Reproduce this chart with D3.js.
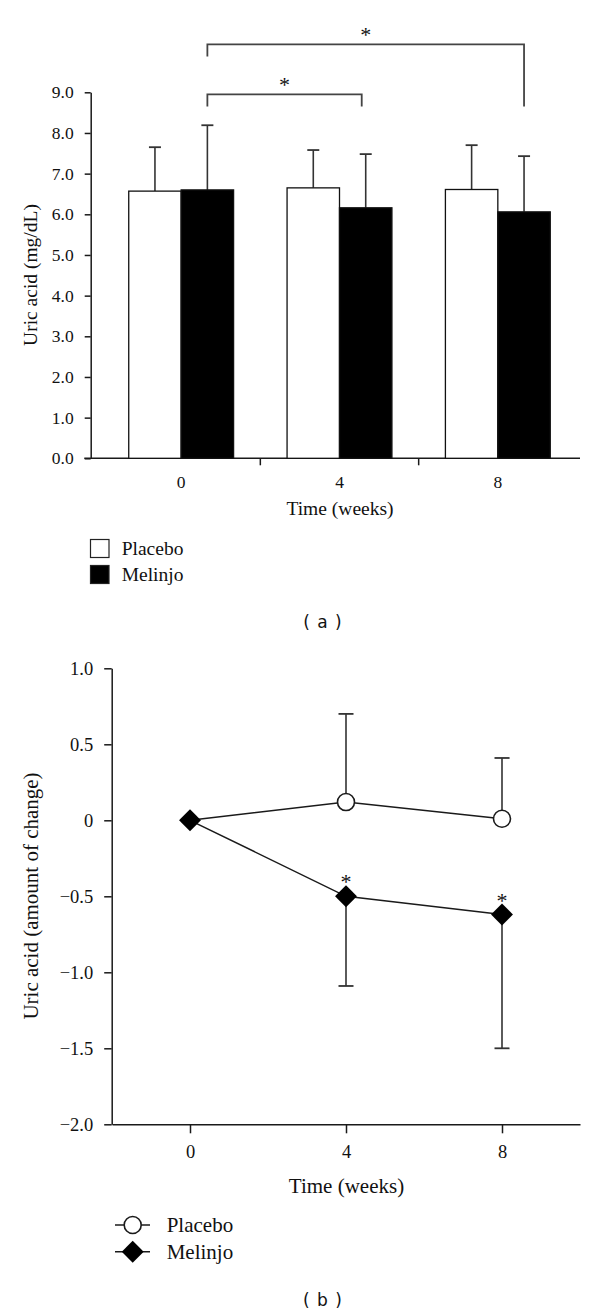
<!DOCTYPE html>
<html><head><meta charset="utf-8">
<script src="https://cdn.jsdelivr.net/npm/d3@7"></script>
<style>
html,body{margin:0;padding:0;background:#fff;}
svg{display:block;}
text{fill:#111;}
</style></head>
<body>
<svg id="chart" width="600" height="1316"></svg>
<script>
// ---------- Data: panel (a) ----------
const weeksA = ["0", "4", "8"];
const seriesNames = ["Placebo", "Melinjo"];
const placeboMean = [6.57, 6.65, 6.61];
const placeboSD   = [1.08, 0.93, 1.09];
const melinjoMean = [6.60, 6.16, 6.06];
const melinjoSD   = [1.59, 1.32, 1.37];
const yTicksA = [0, 1, 2, 3, 4, 5, 6, 7, 8, 9];

// ---------- Data: panel (b) ----------
const weeksB = [0, 4, 8];
const placeboChange = [0, 0.12, 0.01];
const placeboErr    = [0, 0.58, 0.40];
const melinjoChange = [0, -0.50, -0.62];
const melinjoErr    = [0, 0.59, 0.88];
const yTicksB = [1.0, 0.5, 0, -0.5, -1.0, -1.5, -2.0];
const yTickLabelsB = ["1.0", "0.5", "0", "\u22120.5", "\u22121.0", "\u22121.5", "\u22122.0"];
const sigWeeksB = [4, 8];

const serif = "Liberation Serif, Times New Roman, serif";
const svg = d3.select("#chart");
const ink = "#1a1a1a";

// ================= Panel (a) =================
const gA = svg.append("g");
const yA = d3.scaleLinear().domain([0, 9]).range([458.3, 92.3]);
const xA = d3.scaleBand().domain(weeksA).range([102, 577]).paddingInner(0).paddingOuter(0);
const xInner = d3.scaleBand().domain(seriesNames).range([0, xA.bandwidth()]).paddingInner(0).paddingOuter(0.51);

// y axis
const axA = d3.axisLeft(yA).tickValues(yTicksA).tickFormat(d3.format(".1f")).tickSize(6).tickPadding(11).tickSizeOuter(0);
const gyA = gA.append("g").attr("transform", "translate(90.7,0)").call(axA)
  .attr("font-family", serif).attr("font-size", 17.5);
gyA.select(".domain").attr("stroke", ink).attr("stroke-width", 1.5);
gyA.selectAll(".tick line").attr("stroke", ink).attr("stroke-width", 1.5);
gyA.selectAll(".tick text").attr("font-family", serif).attr("font-size", 17.5).attr("fill", ink);

// x axis line
gA.append("line").attr("x1", 84.3).attr("x2", 580).attr("y1", yA(0)).attr("y2", yA(0))
  .attr("stroke", ink).attr("stroke-width", 1.5);
// ticks between groups
weeksA.slice(1).forEach(w => {
  gA.append("line").attr("x1", xA(w)).attr("x2", xA(w)).attr("y1", yA(0)).attr("y2", yA(0) + 7)
    .attr("stroke", ink).attr("stroke-width", 1.5);
});
// tick labels
gA.selectAll("text.xlab").data(weeksA).enter().append("text").attr("class", "xlab")
  .attr("x", d => xA(d) + xA.bandwidth() / 2).attr("y", 488)
  .attr("text-anchor", "middle").attr("font-family", serif).attr("font-size", 17.5).text(d => d);

// bars
const barData = [];
weeksA.forEach((w, i) => {
  barData.push({week: w, s: "Placebo", v: placeboMean[i], sd: placeboSD[i]});
  barData.push({week: w, s: "Melinjo", v: melinjoMean[i], sd: melinjoSD[i]});
});
const bx = d => xA(d.week) + xInner(d.s);
const bw = xInner.bandwidth();
gA.selectAll("line.err").data(barData).enter().append("line")
  .attr("x1", d => bx(d) + bw / 2).attr("x2", d => bx(d) + bw / 2)
  .attr("y1", d => yA(d.v)).attr("y2", d => yA(d.v + d.sd))
  .attr("stroke", "#333").attr("stroke-width", 1.6);
gA.selectAll("line.cap").data(barData).enter().append("line")
  .attr("x1", d => bx(d) + bw / 2 - 6).attr("x2", d => bx(d) + bw / 2 + 6)
  .attr("y1", d => yA(d.v + d.sd)).attr("y2", d => yA(d.v + d.sd))
  .attr("stroke", "#333").attr("stroke-width", 1.8);
gA.selectAll("rect.bar").data(barData).enter().append("rect")
  .attr("x", bx).attr("width", bw)
  .attr("y", d => yA(d.v)).attr("height", d => yA(0) - yA(d.v))
  .attr("fill", d => d.s === "Placebo" ? "#fff" : "#000")
  .attr("stroke", "#111").attr("stroke-width", 1.3);

// significance brackets
const mCenter = w => xA(w) + xInner("Melinjo") + bw / 2;
const brackets = [
  {from: "0", to: "4", top: 8.95, leftEnd: 8.65, rightEnd: 8.65, dx2: -4},
  {from: "0", to: "8", top: 10.18, leftEnd: 9.88, rightEnd: 8.65, dx2: 0}
];
brackets.forEach(b => {
  const x1 = mCenter(b.from), x2 = mCenter(b.to) + b.dx2;
  gA.append("path")
    .attr("d", `M${x1},${yA(b.leftEnd)}V${yA(b.top)}H${x2}V${yA(b.rightEnd)}`)
    .attr("fill", "none").attr("stroke", "#444").attr("stroke-width", 1.8);
  gA.append("text").attr("x", (x1 + x2) / 2).attr("y", yA(b.top) - 2)
    .attr("text-anchor", "middle").attr("font-family", serif).attr("font-size", 22).attr("fill", "#222").text("*");
});

// titles
gA.append("text").attr("x", 340).attr("y", 515).attr("text-anchor", "middle")
  .attr("font-family", serif).attr("font-size", 19.5).text("Time (weeks)");
gA.append("text").attr("transform", "translate(37,275) rotate(-90)").attr("text-anchor", "middle")
  .attr("font-family", serif).attr("font-size", 19.5).text("Uric acid (mg/dL)");

// legend (a)
const legA = gA.append("g");
seriesNames.forEach((s, i) => {
  legA.append("rect").attr("x", 90.5).attr("y", 539.5 + i * 26).attr("width", 18.5).attr("height", 18)
    .attr("fill", s === "Placebo" ? "#fff" : "#000").attr("stroke", "#222").attr("stroke-width", 1.2);
  legA.append("text").attr("x", 121.7).attr("y", 555 + i * 25.5)
    .attr("font-family", serif).attr("font-size", 19.5).text(s);
});
svg.append("text").attr("x", 323).attr("y", 628).attr("text-anchor", "middle")
  .attr("font-family", "DejaVu Sans, sans-serif").attr("font-size", 17).attr("letter-spacing", 1).text("( a )");

// ================= Panel (b) =================
const gB = svg.append("g");
const xB = d3.scaleLinear().domain([-2, 10]).range([112, 580]);
const yB = d3.scaleLinear().domain([-2, 1]).range([1124.3, 668.3]);

const axB = d3.axisLeft(yB).tickValues(yTicksB).tickFormat((d, i) => yTickLabelsB[i]).tickSize(7.5).tickPadding(11).tickSizeOuter(0);
const gyB = gB.append("g").attr("transform", "translate(111.7,0)").call(axB)
  .attr("font-family", serif).attr("font-size", 18.5);
gyB.select(".domain").attr("stroke", ink).attr("stroke-width", 1.5);
gyB.selectAll(".tick line").attr("stroke", ink).attr("stroke-width", 1.5);
gyB.selectAll(".tick text").attr("font-family", serif).attr("font-size", 18.5).attr("fill", ink);

const axBx = d3.axisBottom(xB).tickValues(weeksB).tickFormat(d3.format("d")).tickSize(9).tickPadding(12).tickSizeOuter(0);
const gxB = gB.append("g").attr("transform", `translate(0,${yB(-2)})`).call(axBx)
  .attr("font-family", serif).attr("font-size", 18.5);
gxB.select(".domain").attr("stroke", ink).attr("stroke-width", 1.5);
gxB.selectAll(".tick line").attr("stroke", ink).attr("stroke-width", 1.5);
gxB.selectAll(".tick text").attr("font-family", serif).attr("font-size", 18.5).attr("fill", ink);

// error bars
const pB = weeksB.map((w, i) => ({w, v: placeboChange[i], e: placeboErr[i]}));
const mB = weeksB.map((w, i) => ({w, v: melinjoChange[i], e: melinjoErr[i]}));
const errB = pB.filter(d => d.e > 0).map(d => ({w: d.w, y1: d.v, y2: d.v + d.e}))
  .concat(mB.filter(d => d.e > 0).map(d => ({w: d.w, y1: d.v, y2: d.v - d.e})));
gB.selectAll("line.eb").data(errB).enter().append("line")
  .attr("x1", d => xB(d.w)).attr("x2", d => xB(d.w)).attr("y1", d => yB(d.y1)).attr("y2", d => yB(d.y2))
  .attr("stroke", "#333").attr("stroke-width", 1.6);
gB.selectAll("line.ec").data(errB).enter().append("line")
  .attr("x1", d => xB(d.w) - 7.5).attr("x2", d => xB(d.w) + 7.5).attr("y1", d => yB(d.y2)).attr("y2", d => yB(d.y2))
  .attr("stroke", "#333").attr("stroke-width", 1.8);

// lines
const line = d3.line().x(d => xB(d.w)).y(d => yB(d.v));
gB.append("path").datum(pB).attr("d", line).attr("fill", "none").attr("stroke", ink).attr("stroke-width", 1.5);
gB.append("path").datum(mB).attr("d", line).attr("fill", "none").attr("stroke", ink).attr("stroke-width", 1.5);

// markers
const diamond = d3.symbol().type(d3.symbolSquare).size(240);
gB.selectAll("circle.pm").data(pB.slice(1)).enter().append("circle")
  .attr("cx", d => xB(d.w)).attr("cy", d => yB(d.v)).attr("r", 8.5)
  .attr("fill", "#fff").attr("stroke", ink).attr("stroke-width", 1.6);
gB.selectAll("path.mm").data(mB).enter().append("path")
  .attr("d", diamond).attr("transform", d => `translate(${xB(d.w)},${yB(d.v)}) rotate(45)`)
  .attr("fill", "#000");

// significance stars
gB.selectAll("text.star").data(sigWeeksB).enter().append("text")
  .attr("x", d => xB(d)).attr("y", d => yB(melinjoChange[weeksB.indexOf(d)]) - 7)
  .attr("text-anchor", "middle").attr("font-family", serif).attr("font-size", 22).attr("fill", "#222").text("*");

// titles
gB.append("text").attr("x", 346.5).attr("y", 1193).attr("text-anchor", "middle")
  .attr("font-family", serif).attr("font-size", 21).text("Time (weeks)");
gB.append("text").attr("transform", "translate(38,896) rotate(-90)").attr("text-anchor", "middle")
  .attr("font-family", serif).attr("font-size", 21).text("Uric acid (amount of change)");

// legend (b)
const legB = gB.append("g");
seriesNames.forEach((s, i) => {
  const cy = 1225 + i * 26.7;
  legB.append("line").attr("x1", 115).attr("x2", 150).attr("y1", cy).attr("y2", cy)
    .attr("stroke", ink).attr("stroke-width", 1.5);
  if (s === "Placebo") {
    legB.append("circle").attr("cx", 132.7).attr("cy", cy).attr("r", 8.5)
      .attr("fill", "#fff").attr("stroke", ink).attr("stroke-width", 1.6);
  } else {
    legB.append("path").attr("d", diamond).attr("transform", `translate(132.7,${cy}) rotate(45)`).attr("fill", "#000");
  }
  legB.append("text").attr("x", 166.7).attr("y", cy + 7)
    .attr("font-family", serif).attr("font-size", 21).text(s);
});
svg.append("text").attr("x", 323).attr("y", 1306).attr("text-anchor", "middle")
  .attr("font-family", "DejaVu Sans, sans-serif").attr("font-size", 17).attr("letter-spacing", 1).text("( b )");
</script>
</body></html>
